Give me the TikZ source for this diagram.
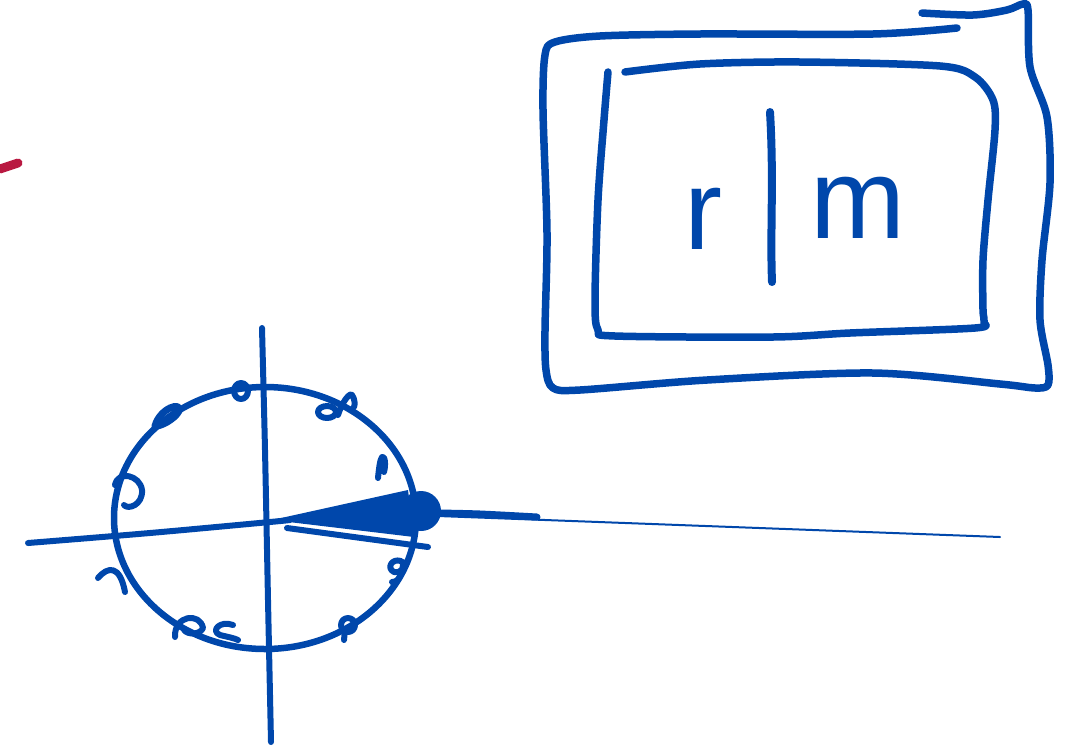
\documentclass[tikz,border=0pt]{standalone}
\usepackage{fontspec}
\setmainfont{Liberation Sans}
\definecolor{penblue}{RGB}{0,71,171}
\definecolor{penred}{RGB}{185,25,65}
\begin{document}
\begin{tikzpicture}[x=1pt,y=-1pt,line cap=round,line join=round,
  ink/.style={draw=penblue,line width=7pt},
  thinink/.style={draw=penblue,line width=2pt},
  hand/.style={text=penblue,inner sep=0pt,font=\fontsize{114}{114}\selectfont}]
\useasboundingbox (0,0) rectangle (1078,753);
% red mark
\draw[draw=penred,line width=9pt] (0,169) -- (18,163);
% axes
\draw[ink,line width=6pt] plot[smooth] coordinates {(28,543) (150,533) (270,522) (290,520)};
\draw[ink,line width=6pt] plot[smooth] coordinates {(262,328) (265,450) (268,600) (271,742)};
% circle
\draw[ink,line width=6.5pt] (265,518) ellipse [x radius=151, y radius=131];
% squiggles on the circle
\draw[ink,line width=7pt] (155,426) .. controls (160,408) and (182,401) .. (179,411) .. controls (175,419) and (160,427) .. (155,426);
\draw[ink,line width=6pt] (241,391) ellipse [x radius=7, y radius=8];
\draw[ink,line width=6pt] (327,412) ellipse [x radius=9, y radius=6];
\draw[ink,line width=6pt] (338,415) .. controls (342,402) and (350,392) .. (352,395) .. controls (355,399) and (355,405) .. (354,407);
\draw[ink,line width=6pt] (378,478) .. controls (379,468) and (380,460) .. (382,457) .. controls (385,455) and (386,465) .. (384,472);
\draw[ink,line width=6pt] (115,485) .. controls (118,470) and (140,475) .. (142,490) .. controls (143,505) and (128,510) .. (124,505);
\draw[ink,line width=6pt] (98,578) .. controls (108,566) and (120,565) .. (125,592);
\draw[ink,line width=6pt] (175,637) .. controls (174,615) and (200,612) .. (203,628) .. controls (200,635) and (188,635) .. (184,630);
\draw[ink,line width=6pt] (233,625) .. controls (220,620) and (210,631) .. (220,635) .. controls (228,637) and (234,638) .. (238,640);
\draw[ink,line width=6pt] (348,625) ellipse [x radius=7, y radius=7];
\draw[ink,line width=6pt] (345,630) -- (344,640);
\draw[ink,line width=6pt] (401,561) .. controls (392,558) and (386,568) .. (394,572) .. controls (400,574) and (405,568) .. (403,562) .. controls (403,572) and (400,582) .. (392,582);
% cone and dot
\fill[penblue] (272,520) -- (408,490) -- (414,537) -- cycle;
\draw[ink,line width=6pt] (287,528) -- (428,547);
\fill[penblue] (421,511) circle (20);
\draw[ink,line width=7pt] plot[smooth] coordinates {(438,513) (480,514) (537,517)};
\draw[thinink] (438,516) -- (1000,537);
% outer box
\draw[ink,line width=7.5pt] plot[smooth] coordinates {(922,13) (973,15) (1007,10) (1023,4) (1028,10) (1030,67) (1047,117) (1050,183) (1042,260) (1040,320) (1048,365) (1048,385) (1035,388) (1000,384) (873,373) (707,380) (580,390) (553,388) (546,370) (545,330) (547,233) (543,110) (545,55) (555,42) (600,36) (700,34) (873,34) (957,28)};
% inner box
\draw[ink,line width=7.5pt] plot[smooth] coordinates {(625,72) (700,64) (800,62) (940,66) (975,77) (993,100) (995,130) (988,200) (983,260) (983,310) (984,322) (975,328) (850,333) (773,337) (615,336) (598,330) (595,300) (598,200) (604,120) (608,72)};
% text
\node[hand,anchor=base] (r) at (703,249) {r};
\draw[ink,line width=8pt] (770,112) .. controls (774,180) and (770,230) .. (772,282);
\node[hand,anchor=base] (m) at (858,238) {m};
\end{tikzpicture}
\end{document}
